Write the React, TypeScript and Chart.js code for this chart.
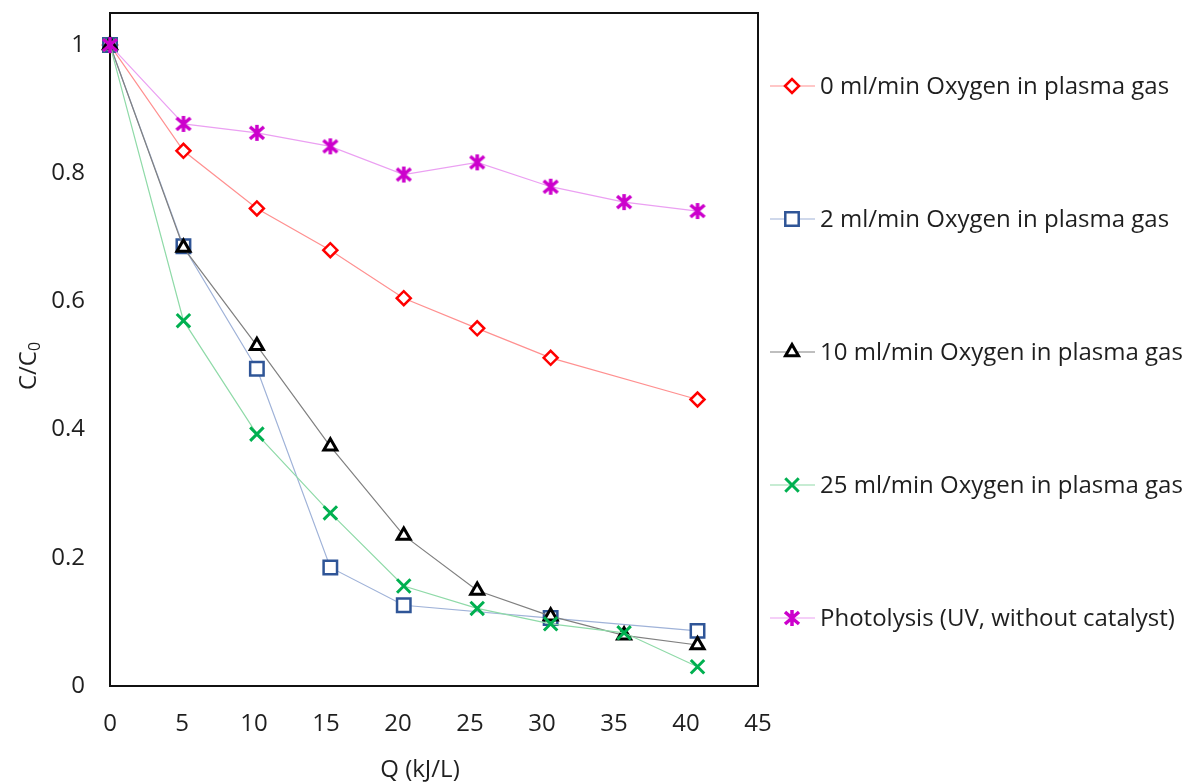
import React, { useEffect, useRef } from "react";
import { Chart, registerables } from "chart.js";
import { drawPoint } from "chart.js/helpers";

Chart.register(...registerables);

// ---- data ----
const SERIES_LABELS = [
  "0 ml/min Oxygen in plasma gas",
  "2 ml/min Oxygen in plasma gas",
  "10 ml/min Oxygen in plasma gas",
  "25 ml/min Oxygen in plasma gas",
  "Photolysis (UV, without catalyst)",
];

const Q_O0 = [0, 5.1, 10.2, 15.3, 20.4, 25.5, 30.6, 40.8];
const C_O0 = [1, 0.835, 0.745, 0.68, 0.605, 0.558, 0.512, 0.447];

const Q_O2 = [0, 5.1, 10.2, 15.3, 20.4, 30.6, 40.8];
const C_O2 = [1, 0.686, 0.495, 0.185, 0.126, 0.106, 0.086];

const Q_O10 = [0, 5.1, 10.2, 15.3, 20.4, 25.5, 30.6, 35.7, 40.8];
const C_O10 = [1, 0.684, 0.531, 0.374, 0.235, 0.149, 0.109, 0.079, 0.064];

const Q_O25 = [0, 5.1, 10.2, 15.3, 20.4, 25.5, 30.6, 35.7, 40.8];
const C_O25 = [1, 0.57, 0.393, 0.27, 0.156, 0.121, 0.097, 0.083, 0.03];

const Q_UV = [0, 5.1, 10.2, 15.3, 20.4, 25.5, 30.6, 35.7, 40.8];
const C_UV = [1, 0.877, 0.863, 0.842, 0.798, 0.817, 0.779, 0.755, 0.741];

const X_MIN = 0;
const X_MAX = 45;
const X_STEP = 5;
const Y_MIN = 0;
const Y_MAX = 1.05;
const Y_STEP = 0.2;

const X_TITLE = "Q (kJ/L)";
const Y_TITLE_MAIN = "C/C";
const Y_TITLE_SUB = "0";

// ---- styles ----
const FONT = '"Open Sans", "Noto Sans", sans-serif';
const TEXT_COLOR = "#1f1f1f";
const FONT_SIZE = 24;

function makeAsterisk(color: string): HTMLCanvasElement {
  const c = document.createElement("canvas");
  c.width = 20;
  c.height = 20;
  const ctx = c.getContext("2d")!;
  ctx.strokeStyle = color;
  ctx.lineWidth = 3.5;
  ctx.beginPath();
  ctx.moveTo(3, 4);
  ctx.lineTo(17, 16);
  ctx.moveTo(17, 4);
  ctx.lineTo(3, 16);
  ctx.moveTo(10, 2);
  ctx.lineTo(10, 18);
  ctx.stroke();
  return c;
}

const pts = (xs: number[], ys: number[]) => xs.map((x, i) => ({ x, y: ys[i] }));

export default function App() {
  const ref = useRef<HTMLCanvasElement | null>(null);

  useEffect(() => {
    if (!ref.current) return;
    const asterisk = makeAsterisk("#cc00cc");

    const frameAndLegend = {
      id: "frameAndLegend",
      beforeDatasetsDraw(chart: any) {
        const { ctx, chartArea } = chart;
        ctx.save();
        ctx.strokeStyle = "#111";
        ctx.lineWidth = 2;
        ctx.strokeRect(chartArea.left, chartArea.top, chartArea.right - chartArea.left, chartArea.bottom - chartArea.top);
        ctx.restore();
      },
      afterDraw(chart: any) {
        const { ctx, chartArea } = chart;
        ctx.save();
        // legend
        const lx0 = chartArea.right + 12;
        const lx1 = chartArea.right + 57;
        const mx = chartArea.right + 34;
        const tx = chartArea.right + 62;
        const y0 = chartArea.top + 73;
        const gap = 133;
        chart.data.datasets.forEach((ds: any, i: number) => {
          const y = y0 + gap * i;
          ctx.setLineDash([]);
          ctx.strokeStyle = ds.borderColor;
          ctx.lineWidth = ds.borderWidth;
          ctx.beginPath();
          ctx.moveTo(lx0, y);
          ctx.lineTo(lx1, y);
          ctx.stroke();
          ctx.strokeStyle = ds.pointBorderColor;
          ctx.fillStyle = ds.pointBackgroundColor;
          ctx.lineWidth = ds.pointBorderWidth;
          drawPoint(ctx, { pointStyle: ds.pointStyle, rotation: 0, radius: ds.pointRadius, borderWidth: ds.pointBorderWidth }, mx, y);
          ctx.fillStyle = TEXT_COLOR;
          ctx.font = `${FONT_SIZE}px ${FONT}`;
          ctx.textAlign = "left";
          ctx.textBaseline = "middle";
          ctx.fillText(ds.label, tx, y + 1);
        });
        // x title
        ctx.fillStyle = TEXT_COLOR;
        ctx.font = `${FONT_SIZE}px ${FONT}`;
        ctx.textAlign = "center";
        ctx.textBaseline = "middle";
        ctx.fillText(X_TITLE, chartArea.left + 310, chartArea.bottom + 84);
        // y title with subscript
        ctx.translate(28, 366);
        ctx.rotate(-Math.PI / 2);
        ctx.font = `${FONT_SIZE}px ${FONT}`;
        const wMain = ctx.measureText(Y_TITLE_MAIN).width;
        ctx.font = `${16}px ${FONT}`;
        const wSub = ctx.measureText(Y_TITLE_SUB).width;
        const start = -(wMain + wSub) / 2;
        ctx.textAlign = "left";
        ctx.textBaseline = "alphabetic";
        ctx.font = `${FONT_SIZE}px ${FONT}`;
        ctx.fillText(Y_TITLE_MAIN, start, 8);
        ctx.font = `${16}px ${FONT}`;
        ctx.fillText(Y_TITLE_SUB, start + wMain, 12);
        ctx.restore();
      },
    };

    const chart = new Chart(ref.current, {
      type: "line",
      data: {
        datasets: [
          {
            label: SERIES_LABELS[0],
            data: pts(Q_O0, C_O0),
            borderColor: "#ff9090",
            borderWidth: 1.2,
            pointStyle: "rectRot",
            pointRadius: 7,
            pointBorderColor: "#ff0000",
            pointBackgroundColor: "#ffffff",
            pointBorderWidth: 2.5,
            clip: false,
            order: 4,
          },
          {
            label: SERIES_LABELS[1],
            data: pts(Q_O2, C_O2),
            borderColor: "#9fb2d8",
            borderWidth: 1.2,
            pointStyle: "rect",
            pointRadius: 9.5,
            pointBorderColor: "#2f5597",
            pointBackgroundColor: "#ffffff",
            pointBorderWidth: 2.5,
            clip: false,
            order: 3,
          },
          {
            label: SERIES_LABELS[2],
            data: pts(Q_O10, C_O10),
            borderColor: "#808080",
            borderWidth: 1.2,
            pointStyle: "triangle",
            pointRadius: 7.5,
            pointBorderColor: "#000000",
            pointBackgroundColor: "#ffffff",
            pointBorderWidth: 3,
            clip: false,
            order: 2,
          },
          {
            label: SERIES_LABELS[3],
            data: pts(Q_O25, C_O25),
            borderColor: "#8fdaa8",
            borderWidth: 1.2,
            pointStyle: "crossRot",
            pointRadius: 9.5,
            pointBorderColor: "#00b050",
            pointBackgroundColor: "#ffffff",
            pointBorderWidth: 3,
            clip: false,
            order: 1,
          },
          {
            label: SERIES_LABELS[4],
            data: pts(Q_UV, C_UV),
            borderColor: "#eba0f2",
            borderWidth: 1.2,
            pointStyle: asterisk as any,
            pointRadius: 8,
            pointBorderColor: "#cc00cc",
            pointBackgroundColor: "#ffffff",
            pointBorderWidth: 3,
            clip: false,
            order: 0,
          },
        ] as any,
      },
      options: {
        responsive: false,
        animation: false,
        layout: { padding: { top: 13, right: 439, left: 0, bottom: 0 } },
        elements: { line: { tension: 0 } },
        plugins: { legend: { display: false }, tooltip: { enabled: false } },
        scales: {
          x: {
            type: "linear",
            min: X_MIN,
            max: X_MAX,
            grid: { display: false, drawTicks: false },
            border: { display: false },
            ticks: {
              stepSize: X_STEP,
              padding: 24,
              color: TEXT_COLOR,
              maxRotation: 0,
              autoSkip: false,
              font: { family: FONT, size: FONT_SIZE },
            },
            afterFit: (s: any) => {
              s.height = 97;
              s.paddingLeft = 0;
              s.paddingRight = 0;
              s.paddingTop = 0;
              s.paddingBottom = 0;
            },
          },
          y: {
            type: "linear",
            min: Y_MIN,
            max: Y_MAX,
            grid: { display: false, drawTicks: false },
            border: { display: false },
            ticks: {
              stepSize: Y_STEP,
              includeBounds: false,
              padding: 25,
              color: TEXT_COLOR,
              font: { family: FONT, size: FONT_SIZE },
              callback: (v: any) => String(Math.round(Number(v) * 10) / 10),
            },
            afterFit: (s: any) => {
              s.width = 110;
              s.paddingLeft = 0;
              s.paddingRight = 0;
              s.paddingTop = 0;
              s.paddingBottom = 0;
            },
          },
        },
      } as any,
      plugins: [frameAndLegend],
    });
    return () => chart.destroy();
  }, []);

  return (
    <div style={{ position: "fixed", left: 0, top: 0, width: 1197, height: 783, background: "#fff" }}>
      <canvas ref={ref} width={1197} height={783} />
    </div>
  );
}
